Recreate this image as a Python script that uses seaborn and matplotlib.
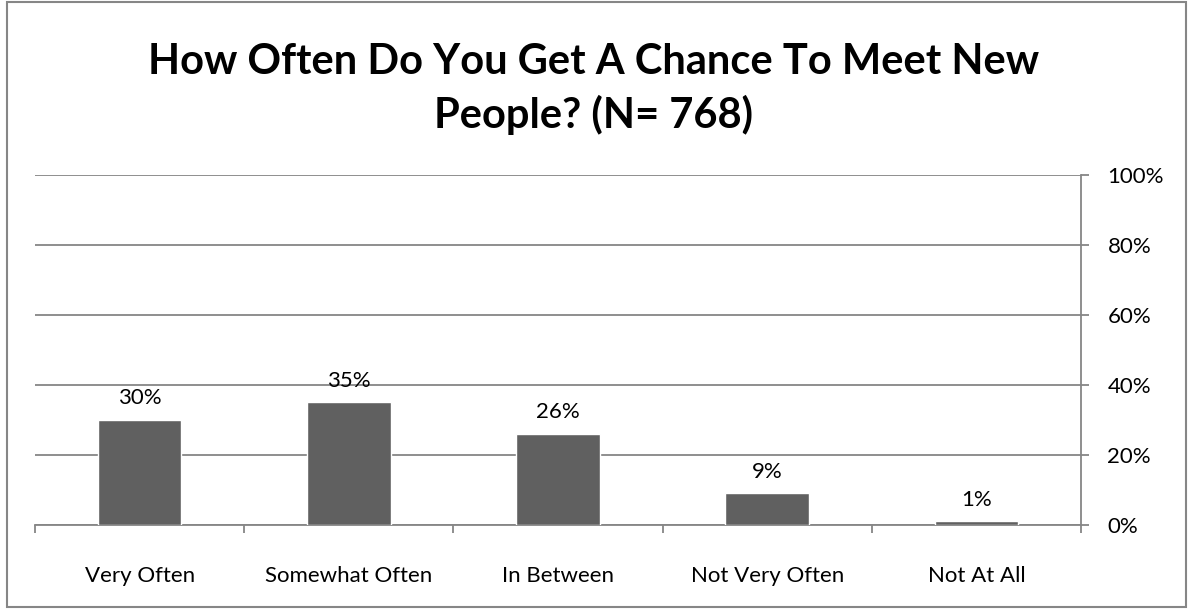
import matplotlib
matplotlib.use("Agg")
import matplotlib.pyplot as plt
import seaborn as sns
import pandas as pd
from matplotlib.patches import Rectangle
from matplotlib.ticker import MultipleLocator, FuncFormatter

categories = ["Very Often", "Somewhat Often", "In Between", "Not Very Often", "Not At All"]
values = [30, 35, 26, 9, 1]
title = "How Often Do You Get A Chance To Meet New\nPeople? (N= 768)"

sns.set_theme(style="white")
plt.rcParams["font.family"] = ["Lato", "DejaVu Sans"]

df = pd.DataFrame({"category": categories, "value": values})

fig = plt.figure(figsize=(11.88, 6.09), dpi=100)
ax = fig.add_axes([35 / 1188, 1 - 524.6 / 609, (1081 - 35) / 1188, (524.6 - 175) / 609])

sns.barplot(data=df, x="category", y="value", color="#606060", width=0.4,
            saturation=1, ax=ax, zorder=3)

ax.set_ylim(0, 100)
ax.set_xlim(-0.5, len(categories) - 0.5)
ax.yaxis.set_major_locator(MultipleLocator(20))
ax.yaxis.set_major_formatter(FuncFormatter(lambda v, _: f"{v:.0f}%"))
ax.yaxis.tick_right()
ax.grid(axis="y", color="#868686", linewidth=1.3, zorder=0)
ax.grid(axis="x", visible=False)
ax.set_xlabel("")
ax.set_ylabel("")

for side in ["top", "left"]:
    ax.spines[side].set_visible(False)
for side in ["right", "bottom"]:
    ax.spines[side].set_color("#868686")
    ax.spines[side].set_linewidth(1.3)

ax.tick_params(axis="y", which="major", direction="out", length=6, width=1.3,
               color="#868686", labelsize=16, pad=13, labelcolor="black", right=True)
ax.set_xticks(range(len(categories)))
ax.set_xticklabels(categories)
ax.tick_params(axis="x", which="major", length=0, labelsize=16, pad=30, labelcolor="black")
# category boundary ticks along the baseline
ax.set_xticks([i + 0.5 for i in range(-1, len(categories))], minor=True)
ax.tick_params(axis="x", which="minor", direction="out", length=6, width=1.3,
               color="#868686", bottom=True)

for i, v in enumerate(values):
    ax.text(i, v + 3.3, f"{v}%", ha="center", va="bottom", fontsize=16, color="black")

fig.text(0.5, 1 - 89 / 609, title, ha="center", va="center", fontsize=30,
         fontweight="bold", linespacing=1.4, color="black")

fig.patches.append(Rectangle((7 / 1188, 0.004), 1 - 9 / 1188, 0.992,
                             transform=fig.transFigure, fill=False,
                             edgecolor="#868686", linewidth=1.5))

fig.savefig("out.png", dpi=100)
